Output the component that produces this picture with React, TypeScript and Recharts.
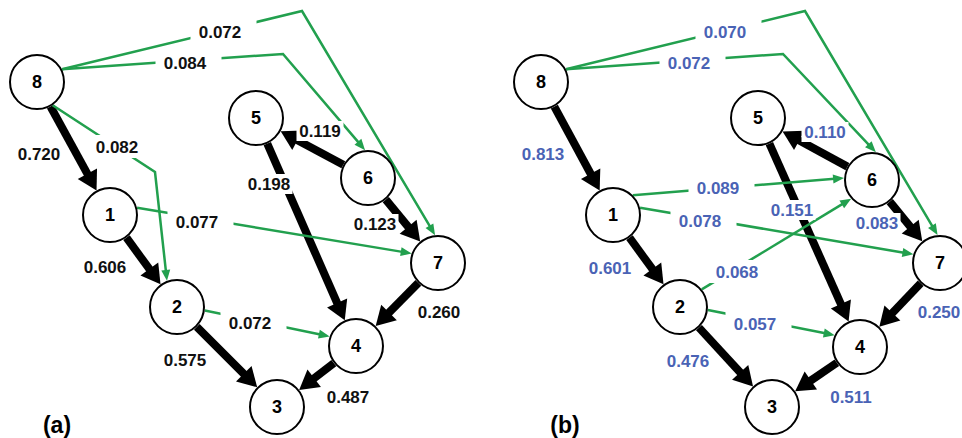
import React from 'react';
import { ScatterChart, Scatter, XAxis, YAxis } from 'recharts';

const W = 962;
const H = 438;
const GREEN = '#22a04e';
const BLUE = '#4a63b5';
const FONT = '"Liberation Sans", Arial, Helvetica, sans-serif';

// ---- nodes ----
const nodeIds = [1, 2, 3, 4, 5, 6, 7, 8];
const nodeXA = [110, 177, 277, 356, 256, 368, 438, 37];
const nodeYA = [215, 307, 407, 346, 118, 178, 263, 82];
const nodeXB = [613, 680, 772, 860, 758, 872, 940, 541];
const nodeYB = [215, 307, 407, 347, 118, 180, 263, 82];

// ---- panel (a) edges ----
const edgeFromA = [8, 1, 2, 4, 7, 5, 6, 6, 8, 8, 8, 1, 2];
const edgeToA = [1, 2, 3, 3, 4, 4, 5, 7, 2, 6, 7, 7, 4];
const weightA = [0.72, 0.606, 0.575, 0.487, 0.26, 0.198, 0.119, 0.123, 0.082, 0.084, 0.072, 0.077, 0.072];
const kindA = ['d', 'd', 'd', 'd', 'd', 'd', 'd', 'd', 'i', 'i', 'i', 'i', 'i'];
const labelXA = [39, 105, 185, 348, 439, 269, 320, 375, 117, 185, 220, 197, 250];
const labelYA = [154, 267, 360, 397, 312, 184, 131, 224, 147, 63, 32, 222, 323];
const startAngA: (number | null)[] = [null, null, null, null, null, null, null, null, 56, -27, -27, -15, 7];
const endAngA: (number | null)[] = [null, null, null, null, null, null, null, null, -111, -96, -96, 200, 200];
const bendsA: number[][][] = [[], [], [], [], [], [], [], [], [[155, 172]], [[283, 54]], [[302, 11]], [], []];

// ---- panel (b) edges ----
const edgeFromB = [8, 1, 2, 4, 7, 5, 6, 6, 8, 8, 1, 1, 2, 2];
const edgeToB = [1, 2, 3, 3, 4, 4, 5, 7, 6, 7, 6, 7, 6, 4];
const weightB = [0.813, 0.601, 0.476, 0.511, 0.25, 0.151, 0.11, 0.083, 0.072, 0.07, 0.089, 0.078, 0.068, 0.057];
const kindB = ['d', 'd', 'd', 'd', 'd', 'd', 'd', 'd', 'i', 'i', 'i', 'i', 'i', 'i'];
const labelXB = [543, 610, 688, 851, 939, 792, 825, 877, 689, 725, 718, 700, 737, 755];
const labelYB = [154, 268, 361, 397, 312, 210, 132, 223, 63, 32, 188, 221, 272, 324];
const startAngB: (number | null)[] = [null, null, null, null, null, null, null, null, -27, -27, -45, -15, -39, 6];
const endAngB: (number | null)[] = [null, null, null, null, null, null, null, null, -82, -95, 184, 198, 138, 205];
const bendsB: number[][][] = [[], [], [], [], [], [], [], [], [[783, 54]], [[805, 11]], [], [], [], []];

// ---- panel tags ----
const panelTags = ['(a)', '(b)'];
const panelTagX = [57, 565];
const panelTagY = [425, 425];

type Pt = { x: number; y: number };
const R = 28;

function nodePos(xs: number[], ys: number[], id: number): Pt {
  const i = nodeIds.indexOf(id);
  return { x: xs[i], y: ys[i] };
}

function attach(c: Pt, toward: Pt, angleDeg: number | null): Pt {
  const ang = angleDeg === null ? Math.atan2(toward.y - c.y, toward.x - c.x) : (angleDeg * Math.PI) / 180;
  return { x: c.x + R * Math.cos(ang), y: c.y + R * Math.sin(ang) };
}

function buildEdges(
  xs: number[], ys: number[], from: number[], to: number[], kind: string[],
  sAng: (number | null)[], eAng: (number | null)[], bends: number[][][]
) {
  return from.map((f, i) => {
    const s = nodePos(xs, ys, f);
    const t = nodePos(xs, ys, to[i]);
    const mids = bends[i].map(([x, y]) => ({ x, y }));
    const first = mids.length ? mids[0] : t;
    const last = mids.length ? mids[mids.length - 1] : s;
    const p0 = attach(s, first, sAng[i]);
    const p1 = attach(t, last, eAng[i]);
    return { kind: kind[i], points: [p0, ...mids, p1] };
  });
}

const edges = [
  ...buildEdges(nodeXA, nodeYA, edgeFromA, edgeToA, kindA, startAngA, endAngA, bendsA),
  ...buildEdges(nodeXB, nodeYB, edgeFromB, edgeToB, kindB, startAngB, endAngB, bendsB),
];
const strongEdges = edges.filter((e) => e.kind === 'd');
const weakEdges = edges.filter((e) => e.kind === 'i');

const nodeData = [
  ...nodeIds.map((id, i) => ({ x: nodeXA[i], y: nodeYA[i], id })),
  ...nodeIds.map((id, i) => ({ x: nodeXB[i], y: nodeYB[i], id })),
];

const labelData = [
  ...weightA.map((w, i) => ({ x: labelXA[i], y: labelYA[i], text: w.toFixed(3), color: '#111', kind: kindA[i] })),
  ...weightB.map((w, i) => ({ x: labelXB[i], y: labelYB[i], text: w.toFixed(3), color: BLUE, kind: kindB[i] })),
];

const tagData = panelTags.map((t, i) => ({ x: panelTagX[i], y: panelTagY[i], text: t }));

function EdgeLine(props: any) {
  const pts: Pt[] = (props.points || []).map((p: any) => ({ x: p.x, y: p.y }));
  if (pts.length < 2) return <g />;
  const strong = props.kind === 'd';
  const color = strong ? '#000' : GREEN;
  const w = strong ? 8 : 2.5;
  const L = strong ? 19 : 11;
  const hw = strong ? 11 : 4.5;
  const n = pts.length;
  const a = pts[n - 2];
  const b = pts[n - 1];
  const dx = b.x - a.x;
  const dy = b.y - a.y;
  const len = Math.hypot(dx, dy) || 1;
  const ux = dx / len;
  const uy = dy / len;
  const bx = b.x - ux * L;
  const by = b.y - uy * L;
  const linePts = [...pts.slice(0, n - 1), { x: bx + ux * 1.5, y: by + uy * 1.5 }];
  const d = linePts.map((p, i) => `${i ? 'L' : 'M'}${p.x},${p.y}`).join(' ');
  const tri = `M${b.x},${b.y} L${bx - uy * hw},${by + ux * hw} L${bx + uy * hw},${by - ux * hw} Z`;
  return (
    <g>
      <path d={d} fill="none" stroke={color} strokeWidth={w} strokeLinejoin="miter" />
      <path d={tri} fill={color} />
    </g>
  );
}

const Empty = () => <g />;

function NodeShape(props: any) {
  const { cx, cy, payload } = props;
  return (
    <g>
      <circle cx={cx} cy={cy} r={27} fill="#fff" stroke="#000" strokeWidth={2} />
      <text x={cx} y={cy} dy="0.36em" textAnchor="middle" fontFamily={FONT} fontWeight="bold" fontSize={18} fill="#000">
        {payload.id}
      </text>
    </g>
  );
}

function LabelShape(props: any) {
  const { cx, cy, payload } = props;
  const tw = payload.text.length * 8.6;
  const weak = payload.kind === 'i';
  const left = weak ? tw / 2 + 8 : tw / 2 + 2;
  const right = weak ? tw / 2 + 15 : tw / 2 + 2;
  const top = weak ? 12 : 10;
  const bottom = weak ? 11 : 10;
  return (
    <g>
      <rect x={cx - left} y={cy - top} width={left + right} height={top + bottom} fill="#fff" />
      <text x={cx} y={cy} dy="0.36em" textAnchor="middle" fontFamily={FONT} fontWeight="bold" fontSize={17} fill={payload.color}>
        {payload.text}
      </text>
    </g>
  );
}

function TagShape(props: any) {
  const { cx, cy, payload } = props;
  return (
    <text x={cx} y={cy} dy="0.36em" textAnchor="middle" fontFamily={FONT} fontWeight="bold" fontSize={23} fill="#000">
      {payload.text}
    </text>
  );
}

export default function App() {
  return (
    <div style={{ position: 'absolute', left: 0, top: 0, width: W, height: H, background: '#fff' }}>
      <ScatterChart width={W} height={H} margin={{ top: 0, right: 0, bottom: 0, left: 0 }}>
        <XAxis type="number" dataKey="x" domain={[0, W]} hide allowDataOverflow />
        <YAxis type="number" dataKey="y" domain={[0, H]} reversed hide allowDataOverflow />
        {strongEdges.map((e, i) => (
          <Scatter
            key={`s${i}`}
            data={e.points}
            isAnimationActive={false}
            shape={Empty}
            line={(lp: any) => <EdgeLine {...lp} kind="d" />}
          />
        ))}
        {weakEdges.map((e, i) => (
          <Scatter
            key={`w${i}`}
            data={e.points}
            isAnimationActive={false}
            shape={Empty}
            line={(lp: any) => <EdgeLine {...lp} kind="i" />}
          />
        ))}
        <Scatter data={labelData} isAnimationActive={false} shape={LabelShape} />
        <Scatter data={nodeData} isAnimationActive={false} shape={NodeShape} />
        <Scatter data={tagData} isAnimationActive={false} shape={TagShape} />
      </ScatterChart>
    </div>
  );
}
